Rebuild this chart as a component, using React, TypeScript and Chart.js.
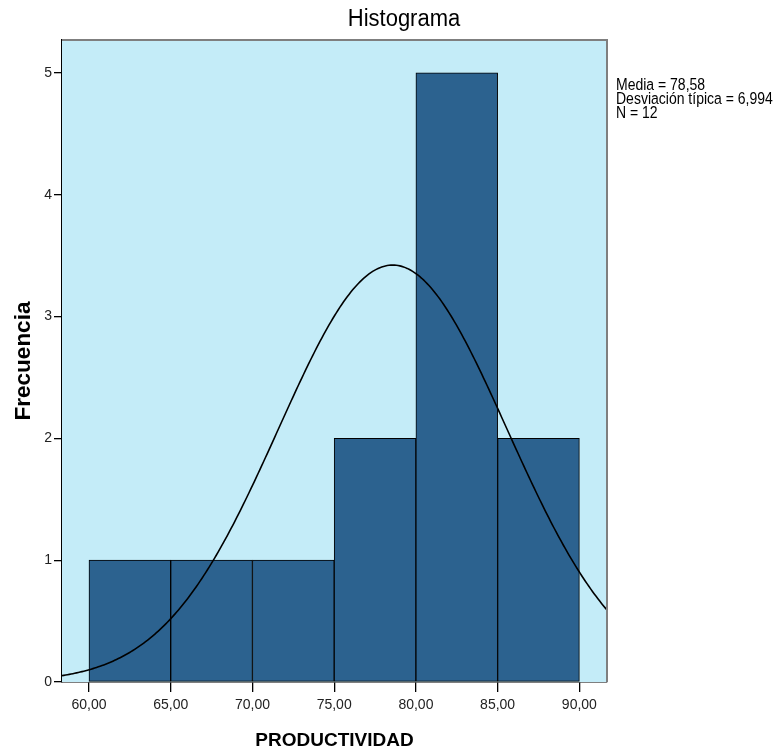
import React, { useEffect, useRef } from "react";
import { Chart, registerables } from "chart.js";

Chart.register(...registerables);

// ---- data ----
const binStarts = [60, 65, 70, 75, 80, 85];
const binWidth = 5;
const frequencies = [1, 1, 1, 2, 5, 2];
const xTickValues = [60, 65, 70, 75, 80, 85, 90];
const yTickValues = [0, 1, 2, 3, 4, 5];
const media = 78.58;
const desviacion = 6.994;
const nTotal = 12;
const xRange = [58.35, 91.69];
const yRange = [0, 5.27];
const statsLines = ["Media = 78,58", "Desviación típica = 6,994", "N = 12"];
const chartTitle = "Histograma";
const xTitle = "PRODUCTIVIDAD";
const yTitle = "Frecuencia";

// ---- styles ----
const SANS = "'Liberation Sans', Arial, sans-serif";
const BAR_COLOR = "#2c628f";
const PLOT_BG = "#c4ecf8";

// normal curve defined by the stats shown in the chart (Media, Desviación típica, N, bin width)
function normalCurve() {
  const pts: { x: number; y: number }[] = [];
  const k = (nTotal * binWidth) / (desviacion * Math.sqrt(2 * Math.PI));
  const steps = 300;
  for (let i = 0; i <= steps; i++) {
    const x = xRange[0] + ((xRange[1] - xRange[0]) * i) / steps;
    const z = (x - media) / desviacion;
    pts.push({ x, y: k * Math.exp(-0.5 * z * z) });
  }
  return pts;
}

function stretchedText(ctx: any, text: string, x: number, baseline: number, sy: number) {
  ctx.save();
  ctx.translate(x, baseline);
  ctx.scale(1, sy);
  ctx.fillText(text, 0, 0);
  ctx.restore();
}

const decor = {
  id: "decor",
  beforeDatasetsDraw(chart: any) {
    const { ctx, chartArea: a } = chart;
    ctx.save();
    ctx.fillStyle = PLOT_BG;
    ctx.fillRect(a.left, a.top, a.right - a.left, a.bottom - a.top);
    ctx.restore();
  },
  afterDraw(chart: any) {
    const { ctx, chartArea: a } = chart;
    ctx.save();
    // gray frame top/right
    ctx.strokeStyle = "#7f7f7f";
    ctx.lineWidth = 2;
    ctx.beginPath();
    ctx.moveTo(a.left, a.top);
    ctx.lineTo(a.right, a.top);
    ctx.lineTo(a.right, a.bottom);
    ctx.stroke();
    // title
    ctx.fillStyle = "#000";
    ctx.font = `22px ${SANS}`;
    ctx.textAlign = "center";
    ctx.textBaseline = "alphabetic";
    stretchedText(ctx, chartTitle, 404, 26, 1.05);
    // stats
    ctx.font = `14px ${SANS}`;
    ctx.textAlign = "left";
    statsLines.forEach((s, i) => stretchedText(ctx, s, 616, 90 + i * 14, 1.18));
    ctx.restore();
  },
};

export default function App() {
  const ref = useRef<HTMLCanvasElement | null>(null);
  useEffect(() => {
    if (!ref.current) return;
    const chart = new Chart(ref.current, {
      type: "bar",
      data: {
        datasets: [
          {
            type: "line",
            data: normalCurve(),
            borderColor: "#000",
            borderWidth: 1.6,
            pointRadius: 0,
            tension: 0,
            fill: false,
          } as any,
          {
            type: "bar",
            data: binStarts.map((s, i) => ({ x: s + binWidth / 2, y: frequencies[i] })),
            backgroundColor: BAR_COLOR,
            borderColor: "#000",
            borderWidth: 1,
            borderSkipped: false,
            barPercentage: 1,
            categoryPercentage: 1,
          } as any,
        ],
      },
      options: {
        responsive: false,
        animation: false,
        layout: { padding: { top: 40, right: 168, left: 0, bottom: 0 } },
        plugins: {
          legend: { display: false },
          tooltip: { enabled: false },
          title: { display: false },
        },
        scales: {
          x: {
            type: "linear",
            offset: false,
            min: xRange[0],
            max: xRange[1],
            afterFit: (s: any) => {
              s.height = 72;
            },
            afterBuildTicks: (s: any) => {
              s.ticks = xTickValues.map((v) => ({ value: v }));
            },
            grid: {
              display: true,
              offset: false,
              drawOnChartArea: false,
              drawTicks: true,
              tickLength: 10,
              color: "#000",
              lineWidth: 1.3,
            },
            border: { display: true, color: "#000", width: 1.5 },
            ticks: {
              padding: 5,
              color: "#222",
              font: { family: SANS, size: 14 },
              maxRotation: 0,
              callback: (v: any) => Number(v).toFixed(2).replace(".", ","),
            },
            title: {
              display: true,
              text: xTitle,
              color: "#000",
              font: { family: SANS, size: 19, weight: "bold" },
              padding: { top: 0, bottom: 2 },
            },
          },
          y: {
            type: "linear",
            min: yRange[0],
            max: yRange[1],
            afterFit: (s: any) => {
              s.width = 62;
            },
            afterBuildTicks: (s: any) => {
              s.ticks = yTickValues.map((v) => ({ value: v }));
            },
            grid: {
              display: true,
              drawOnChartArea: false,
              drawTicks: true,
              tickLength: 8,
              color: "#000",
              lineWidth: 1.3,
            },
            border: { display: true, color: "#000", width: 1.5 },
            ticks: {
              padding: 2,
              color: "#222",
              font: { family: SANS, size: 14 },
              callback: (v: any) => String(v),
            },
            title: {
              display: true,
              text: yTitle,
              color: "#000",
              font: { family: SANS, size: 22.5, weight: "bold" },
              padding: { top: 10, bottom: 0 },
            },
          },
        },
      },
      plugins: [decor],
    });
    return () => chart.destroy();
  }, []);
  return (
    <div style={{ position: "fixed", left: 0, top: 0, width: 775, height: 754, background: "#fff" }}>
      <canvas ref={ref} width={775} height={754} style={{ display: "block" }} />
    </div>
  );
}
